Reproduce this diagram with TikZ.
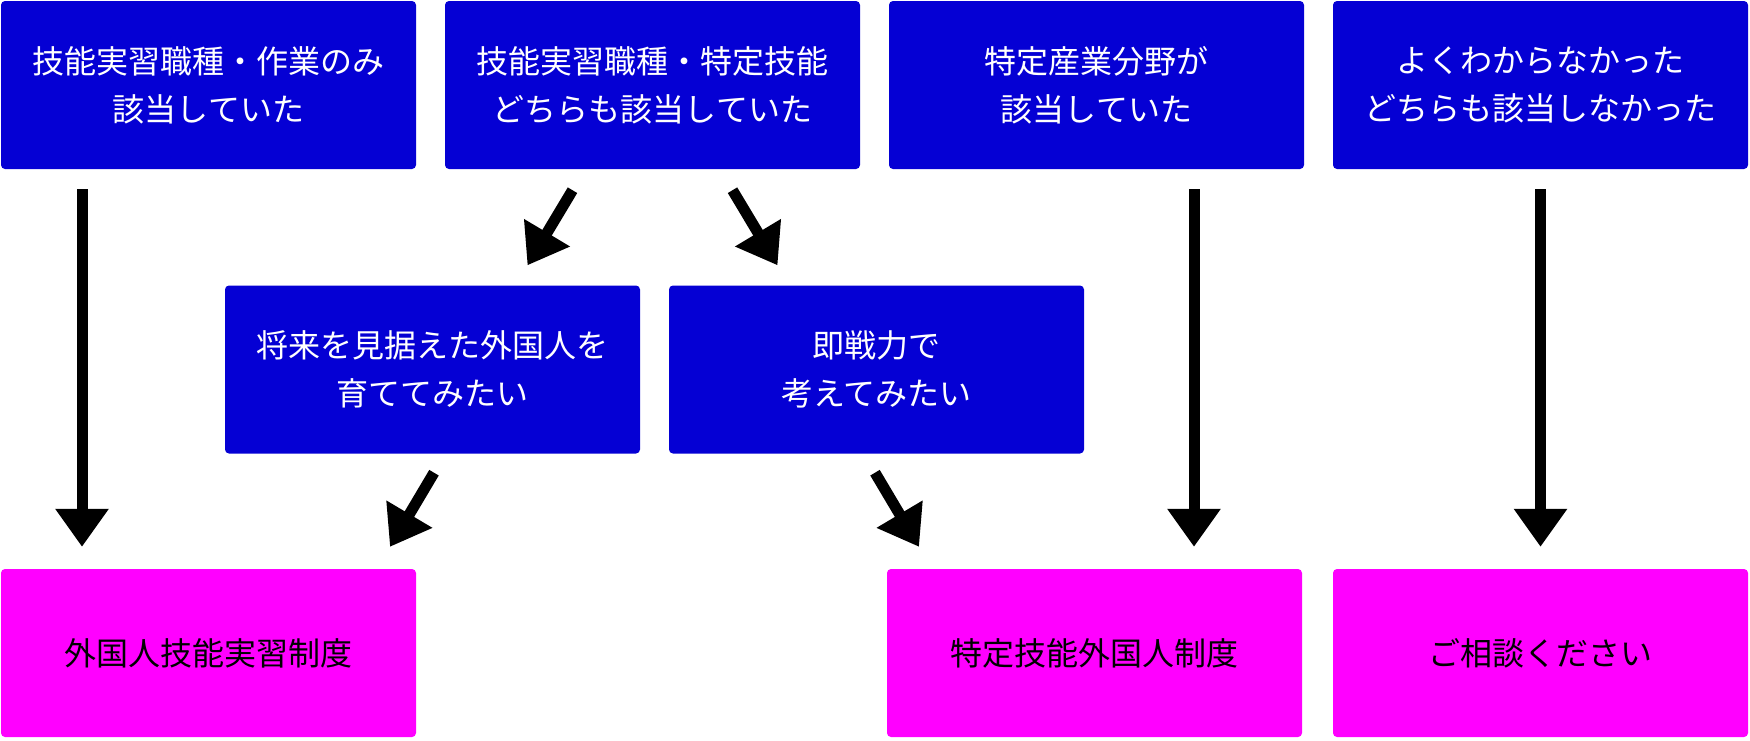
\documentclass[tikz,border=0pt]{standalone}
\usepackage{fontspec}
\setmainfont{Noto Sans CJK JP}
\usetikzlibrary{arrows.meta}
\definecolor{boxblue}{RGB}{5,0,212}
\definecolor{boxpink}{RGB}{255,0,255}
\tikzset{
  qbox/.style={rectangle, rounded corners=4pt, fill=boxblue, text=white,
    minimum width=415pt, minimum height=168pt, inner sep=0pt, align=center,
    font=\fontsize{32pt}{48pt}\selectfont},
  abox/.style={qbox, fill=boxpink, text=black},
  bigarrow/.style={line width=11pt, black, -{Triangle[width=51pt,length=38pt]}}
}
\begin{document}
\begin{tikzpicture}[x=1pt,y=-1pt]
\useasboundingbox (0,0) rectangle (1750,740);
\node[qbox] (b1) at (208.5,85) {技能実習職種・作業のみ\\該当していた};
\node[qbox] (b2) at (652.5,85) {技能実習職種・特定技能\\どちらも該当していた};
\node[qbox] (b3) at (1096.5,85) {特定産業分野が\\該当していた};
\node[qbox] (b4) at (1540.5,85) {よくわからなかった\\どちらも該当しなかった};
\node[qbox] (b5) at (432.5,369.5) {将来を見据えた外国人を\\育ててみたい};
\node[qbox] (b6) at (876.5,369.5) {即戦力で\\考えてみたい};
\node[abox] (b7) at (208.5,653) {外国人技能実習制度};
\node[abox] (b8) at (1094.5,653) {特定技能外国人制度};
\node[abox] (b9) at (1540.5,653) {ご相談ください};
\draw[bigarrow] ([xshift=-126.5pt,yshift=-20pt]b1.south) -- ([xshift=-126.5pt,yshift=22pt]b7.north);
\draw[bigarrow] ([xshift=-80pt,yshift=-21pt]b2.south) -- ([xshift=95pt,yshift=20pt]b5.north);
\draw[bigarrow] ([xshift=80pt,yshift=-21pt]b2.south) -- ([xshift=-99pt,yshift=20pt]b6.north);
\draw[bigarrow] ([xshift=1.5pt,yshift=-19pt]b5.south) -- ([xshift=181.5pt,yshift=22pt]b7.north);
\draw[bigarrow] ([xshift=-1.5pt,yshift=-19pt]b6.south) -- ([xshift=-175.5pt,yshift=22pt]b8.north);
\draw[bigarrow] ([xshift=97.5pt,yshift=-20pt]b3.south) -- ([xshift=99.5pt,yshift=22pt]b8.north);
\draw[bigarrow] ([yshift=-20pt]b4.south) -- ([yshift=22pt]b9.north);
\end{tikzpicture}
\end{document}
